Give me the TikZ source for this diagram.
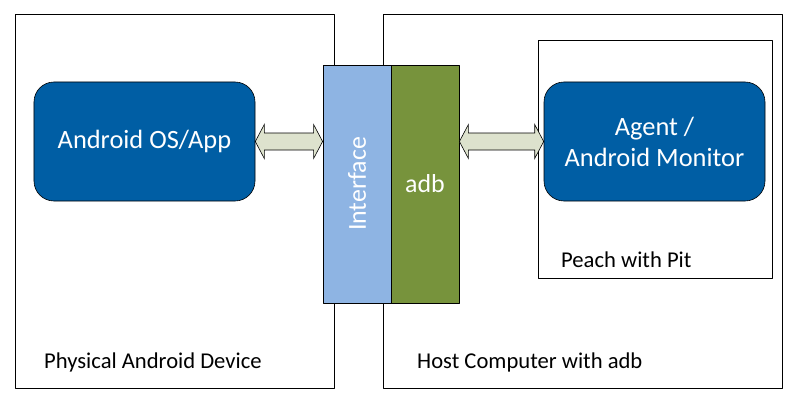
\documentclass[tikz,border=0pt]{standalone}
\usepackage{fontspec}
\setmainfont{Carlito}
\usetikzlibrary{calc}
\definecolor{darkblue}{RGB}{0,94,164}
\definecolor{lightblue}{RGB}{142,180,227}
\definecolor{olive}{RGB}{119,147,60}
\definecolor{pale}{RGB}{221,226,205}
\tikzset{
  frame/.style={draw=black,line width=0.8bp},
  block/.style={draw=black,line width=0.6bp,fill=darkblue,rounded corners=20bp,
    minimum width=221bp,minimum height=119bp,text=white,font=\fontsize{26.5}{31}\selectfont,
    align=center,inner sep=0pt},
  column/.style={draw=black,line width=0.8bp,minimum width=68bp,minimum height=238bp,
    text=white,font=\fontsize{26}{30}\selectfont,inner sep=0pt},
  link/.style={draw=black,line width=0.6bp,fill=pale,line join=miter},
  caption/.style={anchor=base west,inner sep=0pt,font=\fontsize{22.7}{26}\selectfont}
}
\begin{document}
\begin{tikzpicture}[line cap=round,line join=round,x=1bp,y=1bp]
\useasboundingbox (0,0) rectangle (796,403);
\draw[frame] (15,15) rectangle (334,389);
\draw[frame] (383,15) rectangle (782,389);
\draw[frame] (538,125) rectangle (772,362.5);
\node[block] (os) at (144.5,261.5) {Android OS/App};
\node[block] (agent) at (654.5,261.5) {Agent /\\Android Monitor};
\node[column,fill=lightblue] (iface) at (357,219) {};
\node[rotate=90,text=white,font=\fontsize{26}{30}\selectfont] (ifacetext) at (iface.center) {Interface};
\node[column,fill=olive] (adb) at (425,219) {adb};
\draw (44,35) node[caption] (dev) {Physical Android Device};
\draw (417,35) node[caption] (host) {Host Computer with adb};
\draw (561,136) node[caption] (peach) {Peach with Pit};
\coordinate (l1) at (os.east);
\coordinate (r1) at (iface.west |- os.east);
\coordinate (l2) at (adb.east |- agent.west);
\coordinate (r2) at (agent.west);
\draw[link] (l1) -- ++(9,17) -- ++(0,-8.5) -- ($(r1)+(-9,8.5)$) -- ++(0,8.5) -- (r1)
  -- ++(-9,-17) -- ++(0,8.5) -- ($(l1)+(9,-8.5)$) -- ++(0,-8.5) -- cycle;
\draw[link] (l2) -- ++(9,17) -- ++(0,-8.5) -- ($(r2)+(-9,8.5)$) -- ++(0,8.5) -- (r2)
  -- ++(-9,-17) -- ++(0,8.5) -- ($(l2)+(9,-8.5)$) -- ++(0,-8.5) -- cycle;
\end{tikzpicture}
\end{document}
